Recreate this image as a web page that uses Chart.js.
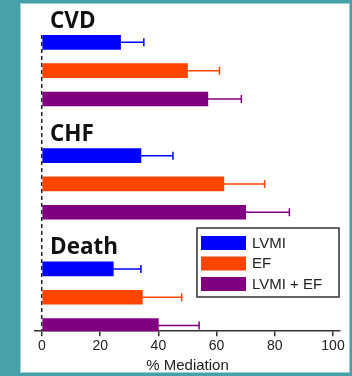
<!DOCTYPE html>
<html>
<head>
<meta charset="utf-8">
<script src="https://cdn.jsdelivr.net/npm/chart.js@4/dist/chart.umd.min.js"></script>
<style>
    html, body { margin: 0; padding: 0; }
    body { width: 352px; height: 376px; background: #48a0aa; position: relative; overflow: hidden; }
    .panel { position: absolute; left: 20px; top: 3px; width: 330px; height: 370px; background: #fff; border: 1px solid #9fd0d6; box-sizing: border-box; }
    #chart { position: absolute; left: 0; top: 0; }
</style>
</head>
<body>
<div class="panel"></div>
<canvas id="chart" width="352" height="376"></canvas>
<script>
var outcomes = ['CVD', 'CHF', 'Death'];
var seriesNames = ['LVMI', 'EF', 'LVMI + EF'];
var lvmi = [27, 34, 24.5];
var lvmiErr = [35, 45, 34];
var ef = [50, 62.5, 34.5];
var efErr = [61, 76.5, 48];
var both = [57, 70, 40];
var bothErr = [68.5, 85, 54];
var xTicks = [0, 20, 40, 60, 80, 100];
var colors = ['#0000ff', '#ff4500', '#800080'];

var values = [lvmi, ef, both];
var errors = [lvmiErr, efErr, bothErr];

// each outcome takes 4 rows: 3 bars + a gap for the next heading
function rows(s, list) {
    return list.map(function (v, g) {
        return {x: v, y: g * 4 + s};
    });
}

var datasets = seriesNames.map(function (name, s) {
    return {
        label: name,
        data: rows(s, values[s]),
        err: errors[s],
        backgroundColor: colors[s],
        borderWidth: 0,
        barThickness: 14,
        grouped: false
    };
});

var errorBars = {
    id: 'errorBars',
    afterDatasetsDraw: function (chart) {
        var ctx = chart.ctx;
        var xs = chart.scales.x;
        chart.data.datasets.forEach(function (ds, i) {
            var meta = chart.getDatasetMeta(i);
            meta.data.forEach(function (bar, j) {
                var ex = xs.getPixelForValue(ds.err[j]);
                ctx.save();
                ctx.strokeStyle = ds.backgroundColor;
                ctx.lineWidth = 1.5;
                ctx.beginPath();
                ctx.moveTo(bar.x, bar.y);
                ctx.lineTo(ex, bar.y);
                ctx.moveTo(ex, bar.y - 4);
                ctx.lineTo(ex, bar.y + 4);
                ctx.stroke();
                ctx.restore();
            });
        });
    }
};

var headings = {
    id: 'headings',
    afterDraw: function (chart) {
        var ctx = chart.ctx;
        var ys = chart.scales.y;
        var x0 = chart.scales.x.getPixelForValue(0);
        ctx.save();
        ctx.fillStyle = '#111';
        ctx.font = 'bold 22.5px "Open Sans", "Liberation Sans", sans-serif';
        ctx.textBaseline = 'middle';
        outcomes.forEach(function (name, g) {
            ctx.fillText(name, x0 + 8, ys.getPixelForValue(g * 4 - 0.74));
        });
        ctx.restore();
    }
};

var boxLegend = {
    id: 'boxLegend',
    afterDraw: function (chart) {
        var ctx = chart.ctx;
        var bx = 197, by = 228, bw = 142, bh = 69;
        ctx.save();
        ctx.fillStyle = '#fff';
        ctx.fillRect(bx, by, bw, bh);
        ctx.strokeStyle = '#333';
        ctx.lineWidth = 1.5;
        ctx.strokeRect(bx, by, bw, bh);
        ctx.font = '15px "Liberation Sans", Arial, sans-serif';
        ctx.textBaseline = 'middle';
        chart.data.datasets.forEach(function (ds, i) {
            var y = by + 8 + i * 20.5;
            ctx.fillStyle = ds.backgroundColor;
            ctx.fillRect(bx + 4, y, 45, 14);
            ctx.fillStyle = '#222';
            ctx.fillText(ds.label, bx + 55, y + 7.5);
        });
        ctx.restore();
    }
};

var ctx = document.getElementById('chart').getContext('2d');
new Chart(ctx, {
    type: 'bar',
    data: {datasets: datasets},
    plugins: [errorBars, headings, boxLegend],
    options: {
        indexAxis: 'y',
        responsive: false,
        animation: false,
        layout: {padding: {left: 35, right: 12, top: 35, bottom: 1}},
        plugins: {legend: {display: false}, tooltip: {enabled: false}},
        scales: {
            x: {
                type: 'linear',
                min: -2.4,
                max: 102.4,
                afterBuildTicks: function (scale) {
                    scale.ticks = xTicks.map(function (v) { return {value: v}; });
                },
                ticks: {color: '#222', font: {family: '"Liberation Sans", Arial, sans-serif', size: 14}, padding: 2},
                grid: {
                    color: function (c) { return c.tick && c.tick.value === 0 ? '#222' : 'rgba(0,0,0,0)'; },
                    lineWidth: 1.5,
                    tickColor: '#333',
                    tickLength: 5,
                    tickBorderDash: []
                },
                border: {color: '#333', width: 1.5, dash: [4, 3]},
                title: {display: true, text: '% Mediation', color: '#222', font: {family: '"Liberation Sans", Arial, sans-serif', size: 15}, padding: 0}
            },
            y: {
                type: 'linear',
                reverse: true,
                offset: false,
                min: -0.26,
                max: 10.2,
                display: false
            }
        }
    }
});
</script>
</body>
</html>
